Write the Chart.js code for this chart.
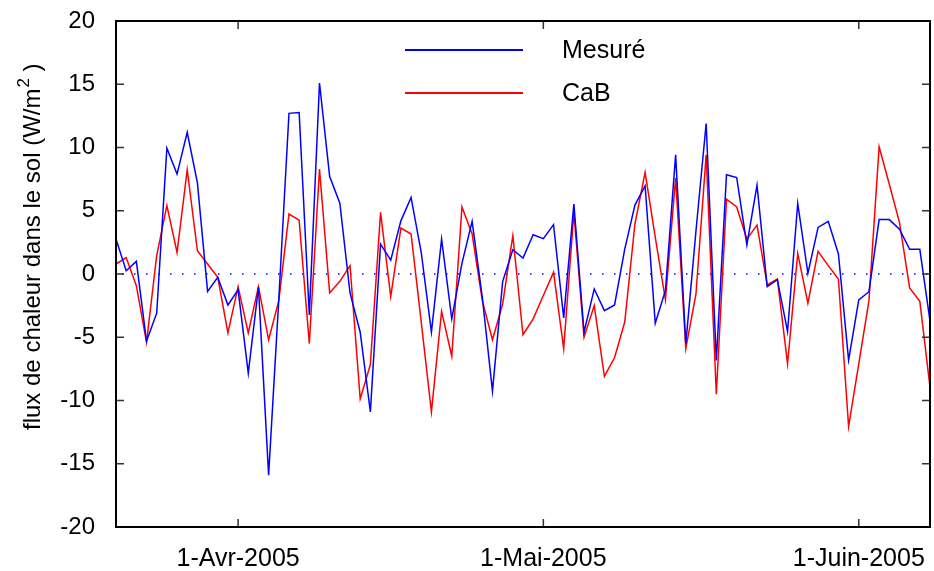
<!DOCTYPE html>
<html lang="fr">
<head>
  <meta charset="UTF-8" />
  <title>Flux de chaleur dans le sol</title>
  <style>
    html, body { margin: 0; padding: 0; background: #fff; }
    #wrap { width: 934px; height: 571px; }
  </style>
</head>
<body>
  <div id="wrap"><canvas id="flux" width="934" height="571"></canvas></div>

  <script src="https://cdn.jsdelivr.net/npm/chart.js"></script>
  <script>
    // one value per day, day 0 = 20-Mar-2005
    const startDate = '2005-03-20';
    const measured = [
      2.76, 0.26, 1.0, -5.3, -3.1, 9.95, 7.9, 11.2, 7.2, -1.37,
      -0.26, -2.45, -1.26, -7.84, -1.05, -15.9, -2.0, 12.7, 12.76, -3.24,
      15.1, 7.7, 5.6, -1.5, -4.6, -10.9, 2.37, 1.1, 4.2, 6.05,
      1.7, -4.6, 2.76, -3.55, 0.84, 4.16, -1.84, -9.26, -0.6, 1.92,
      1.26, 3.1, 2.8, 3.9, -3.47, 5.53, -4.6, -1.18, -2.9, -2.45,
      1.97, 5.45, 6.97, -3.9, -1.3, 9.42, -5.5, 3.4, 11.9, -6.84,
      7.84, 7.63, 2.3, 7.03, -1.0, -0.45, -4.55, 5.58, 0.05, 3.68,
      4.16, 1.58, -6.8, -2.05, -1.4, 4.3, 4.3, 3.55, 1.95, 1.95,
      -3.7
    ];
    const cab = [
      0.79, 1.3, -0.92, -5.4, 1.45, 5.4, 1.7, 8.24, 1.84, 0.79,
      -0.26, -4.66, -1.0, -4.66, -1.0, -5.2, -2.1, 4.74, 4.26, -5.5,
      8.3, -1.5, -0.58, 0.66, -9.87, -7.16, 4.87, -1.79, 3.63, 3.16,
      -3.8, -10.9, -2.95, -6.5, 5.3, 3.16, -2.1, -5.2, -2.37, 3.03,
      -4.8, -3.55, -1.7, 0.13, -5.9, 4.87, -5.0, -2.5, -8.1, -6.6,
      -3.8, 3.95, 8.03, 2.9, -2.05, 7.58, -5.9, -1.58, 9.42, -9.5,
      5.92, 5.3, 2.76, 3.87, -0.87, -0.4, -7.1, 1.63, -2.3, 1.79,
      0.66, -0.4, -12.05, -7.1, -2.1, 10.05, 7.1, 4.08, -1.1, -2.16,
      -8.95
    ];
    const seriesNames = ['Mesuré', 'CaB'];
    const seriesColors = ['#0000ff', '#ff0000'];
    const tickDays = [12, 42, 73];
    const tickLabels = ['1-Avr-2005', '1-Mai-2005', '1-Juin-2005'];

    const FONT = "'Liberation Sans', Arial, sans-serif";

    // frame, inward ticks, dotted zero line, y title and legend inside the plot
    const framePlugin = {
      id: 'frame',
      beforeDatasetsDraw(chart) {
        const { ctx, chartArea: a, scales: { y } } = chart;
        const y0 = y.getPixelForValue(0);
        ctx.save();
        ctx.strokeStyle = '#0000ff';
        ctx.lineWidth = 1.5;
        ctx.setLineDash([1.5, 10.5]);
        ctx.beginPath();
        ctx.moveTo(a.left + 6, y0);
        ctx.lineTo(a.right, y0);
        ctx.stroke();
        ctx.restore();
      },
      afterDraw(chart) {
        const { ctx, chartArea: a, scales: { x, y } } = chart;
        ctx.save();
        ctx.strokeStyle = '#333';
        ctx.lineWidth = 1.5;
        ctx.beginPath();
        y.ticks.forEach(t => {
          const py = y.getPixelForValue(t.value);
          ctx.moveTo(a.left, py); ctx.lineTo(a.left + 8, py);
          ctx.moveTo(a.right, py); ctx.lineTo(a.right - 8, py);
        });
        tickDays.forEach(d => {
          const px = x.getPixelForValue(d);
          ctx.moveTo(px, a.bottom); ctx.lineTo(px, a.bottom - 8);
          ctx.moveTo(px, a.top); ctx.lineTo(px, a.top + 8);
        });
        ctx.stroke();

        ctx.strokeStyle = '#000';
        ctx.lineWidth = 2;
        ctx.strokeRect(a.left, a.top, a.right - a.left, a.bottom - a.top);

        // y title with superscript
        ctx.save();
        ctx.translate(33, 430);
        ctx.rotate(-Math.PI / 2);
        ctx.fillStyle = '#000';
        ctx.textBaseline = 'middle';
        ctx.textAlign = 'left';
        ctx.font = '24px ' + FONT;
        const main = 'flux de chaleur dans le sol (W/m';
        ctx.fillText(main, 0, 0);
        let w = ctx.measureText(main).width;
        ctx.font = '17px ' + FONT;
        ctx.fillText('2', w + 1, -9);
        w += ctx.measureText('2').width + 1;
        ctx.font = '24px ' + FONT;
        ctx.fillText(' )', w, 0);
        ctx.restore();

        // legend
        ctx.font = '25px ' + FONT;
        ctx.textBaseline = 'middle';
        ctx.fillStyle = '#000';
        chart.data.datasets.forEach((ds, i) => {
          const ly = 50 + i * 43;
          ctx.strokeStyle = ds.borderColor;
          ctx.lineWidth = 2;
          ctx.beginPath();
          ctx.moveTo(405, ly); ctx.lineTo(523, ly);
          ctx.stroke();
          ctx.fillText(ds.label, 562, ly + 1);
        });
        ctx.restore();
      }
    };

    const noPad = s => {
      s.paddingTop = 0; s.paddingBottom = 0;
      s.paddingLeft = 0; s.paddingRight = 0;
    };

    new Chart(document.getElementById('flux'), {
      type: 'line',
      data: {
        datasets: [
          { label: seriesNames[0], data: measured.map((v, i) => ({ x: i, y: v })),
            borderColor: seriesColors[0], borderWidth: 1.5, pointRadius: 0, tension: 0 },
          { label: seriesNames[1], data: cab.map((v, i) => ({ x: i, y: v })),
            borderColor: seriesColors[1], borderWidth: 1.5, pointRadius: 0, tension: 0 }
        ]
      },
      options: {
        responsive: false,
        animation: false,
        layout: { padding: { top: 21, right: 4, left: 0, bottom: 0 } },
        plugins: { legend: { display: false }, tooltip: { enabled: false } },
        scales: {
          x: {
            type: 'linear',
            min: 0,
            max: measured.length - 1,
            grid: { display: false, drawTicks: false },
            border: { display: false },
            afterBuildTicks: s => { s.ticks = tickDays.map(v => ({ value: v })); },
            afterFit: s => { s.height = 44; noPad(s); },
            ticks: {
              autoSkip: false,
              maxRotation: 0,
              padding: 17,
              color: '#000',
              font: { family: FONT, size: 25 },
              callback: v => tickLabels[tickDays.indexOf(v)]
            }
          },
          y: {
            min: -20,
            max: 20,
            grid: { display: false, drawTicks: false },
            border: { display: false },
            afterFit: s => { s.width = 116; noPad(s); },
            ticks: {
              stepSize: 5,
              padding: 21,
              color: '#000',
              font: { family: FONT, size: 24 }
            }
          }
        }
      },
      plugins: [framePlugin]
    });
  </script>
</body>
</html>
